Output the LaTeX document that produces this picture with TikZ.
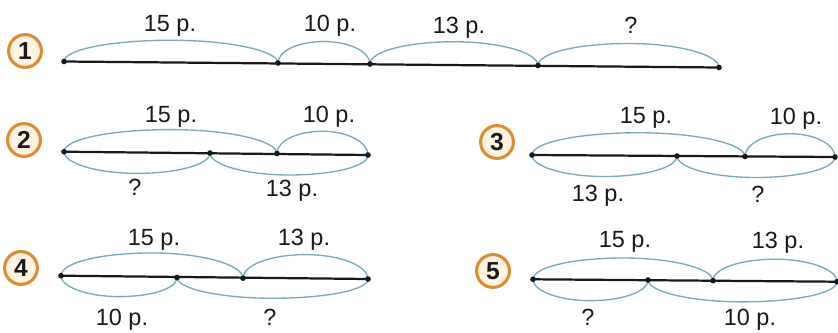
\documentclass[tikz,border=0pt]{standalone}
\usepackage{fontspec}
\setmainfont{Liberation Sans}
\usetikzlibrary{calc}
\definecolor{arcblue}{RGB}{120,170,190}
\definecolor{ringorange}{RGB}{222,140,50}
\definecolor{ringfill}{RGB}{255,244,226}
\definecolor{ink}{RGB}{25,25,25}
\tikzset{
  seg/.style={draw=ink, line width=1.9pt},
  dotnode/.style={circle, fill=ink, inner sep=0pt, minimum size=4.8pt},
  arcline/.style={draw=arcblue, line width=1.15pt},
  lbl/.style={anchor=base, font=\fontsize{20}{20}\selectfont, text=ink, inner sep=0pt},
  numbox/.style={circle, draw=ringorange, line width=2.6pt, fill=ringfill, minimum size=28pt, inner sep=0pt, font=\bfseries\fontsize{21}{21}\selectfont, text=ink},
}
\newcommand\myarc[3]{%
  \draw[arcline] let \p1=(#1), \p2=(#2), \p3=($(#1)!0.5!(#2)$), \n1={(#3)*0.85358} in
  (\p1) .. controls (\x1, {\y1+0.5523*\n1}) and ({\x3-0.5523*(\x3-\x1)}, {\y3+\n1}) .. (\x3, {\y3+\n1})
  .. controls ({\x3+0.5523*(\x2-\x3)}, {\y3+\n1}) and (\x2, {\y2+0.5523*\n1}) .. (\p2);}
\begin{document}
\begin{tikzpicture}[x=0.03cm, y=-0.03cm]
\fill[white] (0,0) rectangle (838,332);
\useasboundingbox (0,0) rectangle (838,332);

% ---------- points ----------
\coordinate (p1a) at (64,61.5);
\coordinate (p1b) at (278,63);
\coordinate (p1c) at (370,64);
\coordinate (p1d) at (538,65.5);
\coordinate (p1e) at (719,67.5);

\coordinate (p2a) at (64,151.7);
\coordinate (p2b) at (210,153);
\coordinate (p2c) at (277,153.5);
\coordinate (p2d) at (368,155);

\coordinate (p3a) at (532,155);
\coordinate (p3b) at (677,156);
\coordinate (p3c) at (745,156.5);
\coordinate (p3d) at (835,157);

\coordinate (p4a) at (61,275.7);
\coordinate (p4b) at (177,277.5);
\coordinate (p4c) at (243,278.2);
\coordinate (p4d) at (368,279);

\coordinate (p5a) at (533,279.3);
\coordinate (p5b) at (648,280);
\coordinate (p5c) at (713,280.7);
\coordinate (p5d) at (837,281.7);

% ---------- arcs ----------
\myarc{p1a}{p1b}{22}
\myarc{p1b}{p1c}{22}
\myarc{p1c}{p1d}{23}
\myarc{p1d}{p1e}{23}

\myarc{p2a}{p2c}{23}
\myarc{p2c}{p2d}{23}
\myarc{p2a}{p2b}{-21}
\myarc{p2b}{p2d}{-21}

\myarc{p3a}{p3c}{23}
\myarc{p3c}{p3d}{23}
\myarc{p3a}{p3b}{-21}
\myarc{p3b}{p3d}{-21}

\myarc{p4a}{p4c}{24}
\myarc{p4c}{p4d}{24}
\myarc{p4a}{p4b}{-20}
\myarc{p4b}{p4d}{-20}

\myarc{p5a}{p5c}{22}
\myarc{p5c}{p5d}{22}
\myarc{p5a}{p5b}{-21}
\myarc{p5b}{p5d}{-21}

% ---------- segments ----------
\draw[seg] (p1a) -- (p1e);
\draw[seg] (p2a) -- (p2d);
\draw[seg] (p3a) -- (p3d);
\draw[seg] (p4a) -- (p4d);
\draw[seg] (p5a) -- (p5d);

% ---------- dots ----------
\foreach \r/\l in {1/a,1/b,1/c,1/d,1/e,2/a,2/b,2/c,2/d,3/a,3/b,3/c,3/d,4/a,4/b,4/c,4/d,5/a,5/b,5/c,5/d}
  \node[dotnode] (d\r\l) at (p\r\l) {};

% ---------- numbers ----------
\node[numbox] (c1) at (25,51) {1};
\node[numbox] (c2) at (24,140) {2};
\node[numbox] (c3) at (497,142) {3};
\node[numbox] (c4) at (21,268) {4};
\node[numbox] (c5) at (493,271) {5};

% ---------- labels ----------
\node[lbl] (l1a) at (170,31) {15 р.};
\node[lbl] (l1b) at (330,31) {10 р.};
\node[lbl] (l1c) at (459,33) {13 р.};
\node[lbl] (l1d) at (631,33) {?};

\node[lbl] (l2a) at (171,122) {15 р.};
\node[lbl] (l2b) at (329,122) {10 р.};
\node[lbl] (l2c) at (135,195) {?};
\node[lbl] (l2d) at (292,196) {13 р.};

\node[lbl] (l3a) at (646,123) {15 р.};
\node[lbl] (l3b) at (796,124) {10 р.};
\node[lbl] (l3c) at (598,201) {13 р.};
\node[lbl] (l3d) at (758,202) {?};

\node[lbl] (l4a) at (154,245) {15 р.};
\node[lbl] (l4b) at (304,245) {13 р.};
\node[lbl] (l4c) at (122,325) {10 р.};
\node[lbl] (l4d) at (270,325) {?};

\node[lbl] (l5a) at (625,247) {15 р.};
\node[lbl] (l5b) at (778,248) {13 р.};
\node[lbl] (l5c) at (588,325.5) {?};
\node[lbl] (l5d) at (750,325.5) {10 р.};
\end{tikzpicture}
\end{document}
